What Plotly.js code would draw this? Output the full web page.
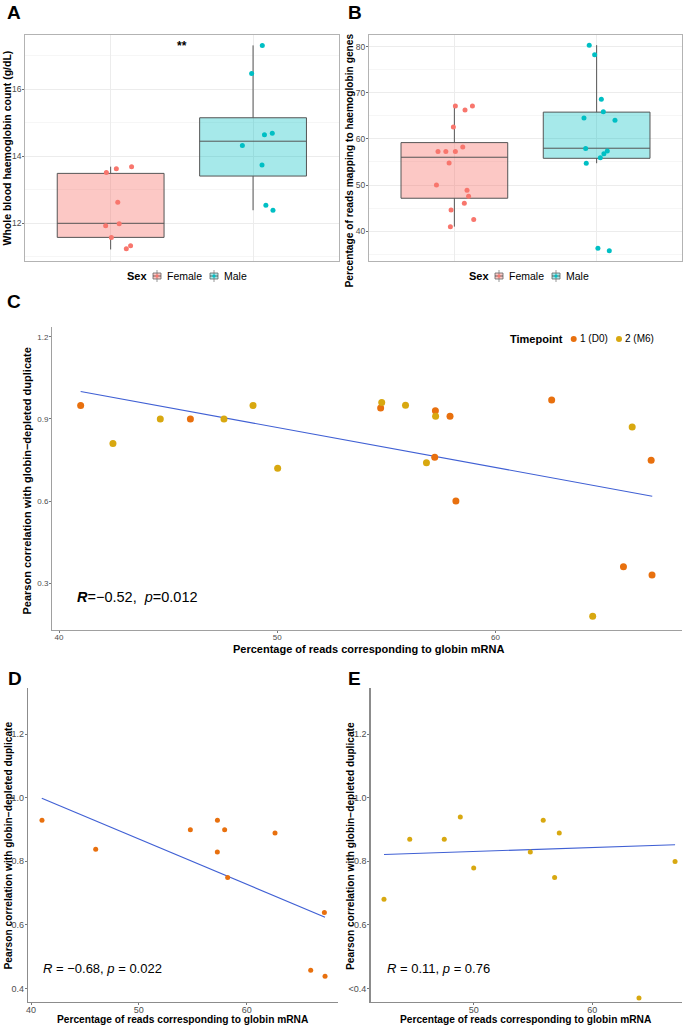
<!DOCTYPE html>
<html>
<head>
<meta charset="utf-8">
<script src="https://cdn.plot.ly/plotly-3.0.1.min.js"></script>
<style>html,body{margin:0;padding:0;background:#fff;}#chart{width:685px;height:1027px;}</style>
</head>
<body>
<div id="chart"></div>
<script>
// ---------------- DATA ----------------
// Panel A: whole blood haemoglobin (g/dL)
const sexCategories = ["Female", "Male"];
const femaleHb = [13.52, 13.63, 13.69, 12.63, 11.99, 11.93, 11.58, 11.33, 11.24];
const femaleHbJitter = [-0.03, 0.04, 0.147, 0.05, 0.06, -0.035, 0.005, 0.14, 0.11];
const maleHb = [17.31, 16.47, 14.69, 14.64, 14.32, 13.74, 12.54, 12.39];
const maleHbJitter = [0.065, -0.01, 0.135, 0.08, -0.075, 0.063, 0.09, 0.14];
// box statistics [female, male]
const hbQ1 = [11.58, 13.41];
const hbMedian = [12.0, 14.45];
const hbQ3 = [13.49, 15.15];
const hbLower = [11.22, 12.39];
const hbUpper = [13.69, 17.31];

// Panel B: % reads mapping to haemoglobin genes
const femaleReads = [67.15, 66.28, 67.15, 62.6, 58.27, 57.25, 57.25, 57.25, 54.8, 50.03, 48.88, 47.58, 46.07, 44.62, 42.52, 41.0];
const femaleReadsJitter = [0.007, 0.075, 0.127, -0.007, 0.059, -0.115, -0.06, 0.007, -0.037, -0.126, 0.089, 0.10, 0.07, -0.023, 0.136, -0.028];
const maleReads = [80.3, 78.2, 68.6, 64.5, 65.9, 64.05, 57.9, 57.4, 56.8, 55.9, 54.73, 36.3, 35.8];
const maleReadsJitter = [-0.052, -0.014, 0.033, -0.089, 0.047, 0.129, -0.077, 0.075, 0.051, 0.026, -0.073, 0.009, 0.089];
const readsQ1 = [47.15, 55.8];
const readsMedian = [56.03, 57.98];
const readsQ3 = [59.2, 65.8];
const readsLower = [41.0, 54.73];
const readsUpper = [67.15, 80.3];

// Panel C: both timepoints
const timepointLabels = ["1 (D0)", "2 (M6)"];
const d0GlobinPct = [40.99, 46.02, 54.74, 57.25, 57.92, 62.58, 67.14, 57.22, 58.19, 65.87, 67.18];
const d0Corr = [0.949, 0.9, 0.94, 0.93, 0.91, 0.969, 0.749, 0.76, 0.6, 0.36, 0.33];
const m6GlobinPct = [42.47, 44.64, 47.56, 48.89, 50.02, 54.79, 55.88, 57.26, 66.27, 56.84, 64.46];
const m6Corr = [0.81, 0.9, 0.9, 0.949, 0.72, 0.96, 0.95, 0.91, 0.87, 0.74, 0.18];
const fitCX = [40.99, 67.19];
const fitCY = [1.0, 0.618];

// Panel D: timepoint 1
const dGlobinPct = [41.02, 46.0, 54.78, 57.29, 57.28, 57.96, 58.24, 62.63, 67.21, 65.94, 67.27];
const dCorr = [0.929, 0.838, 0.899, 0.929, 0.829, 0.899, 0.749, 0.889, 0.639, 0.457, 0.438];
const fitDX = [41.0, 67.27];
const fitDY = [0.998, 0.624];

// Panel E: timepoint 2
const eGlobinPct = [42.44, 44.61, 47.52, 48.87, 50.0, 54.77, 55.86, 57.21, 56.82, 66.97, 63.93];
const eCorr = [0.68, 0.869, 0.869, 0.939, 0.779, 0.829, 0.929, 0.889, 0.749, 0.799, 0.37];
const fitEX = [42.44, 66.97];
const fitEY = [0.821, 0.852];

// tick labels
const hbTicks = [12, 14, 16];
const readsTicks = [40, 50, 60, 70, 80];
const corrTicksC = [0.3, 0.6, 0.9, 1.2];
const corrTicksDE = [0.4, 0.6, 0.8, 1.0, 1.2];
const corrTickTextD = ["0.4", "0.6", "0.8", "1.0", "1.2"];
const corrTickTextE = ["<0.4", "0.6", "0.8", "1.0", "1.2"];
const pctTicks = [40, 50, 60];

// ---------------- STYLE ----------------
const W = 685, H = 1027;
const FONT = "Liberation Sans, Arial, Helvetica, sans-serif";
const RED = "#F8766D", TEAL = "#00BFC4";
const RED_FILL = "rgba(248,118,109,0.4)", TEAL_FILL = "rgba(0,191,196,0.35)";
const ORANGE = "#E8700E", YELLOW = "#D8A810", BLUE = "#4060D4";
const px = v => v / W;
const py = v => 1 - v / H;

function addBox(traces, pos, q1, med, q3, lo, hi, fill, xa, ya) {
  traces.push({
    type: "box", x: [pos], q1: [q1], median: [med], q3: [q3],
    lowerfence: [lo], upperfence: [hi], width: 0.75, whiskerwidth: 0,
    fillcolor: fill, line: { color: "#555555", width: 1 },
    boxpoints: false, xaxis: xa, yaxis: ya, showlegend: false, hoverinfo: "skip"
  });
}
function addJitter(traces, pos, vals, jit, color, xa, ya) {
  traces.push({
    type: "scatter", mode: "markers",
    x: vals.map((v, i) => pos + jit[i]), y: vals,
    marker: { color: color, size: 5 }, xaxis: xa, yaxis: ya, showlegend: false, hoverinfo: "skip"
  });
}

const traces = [];
// Panel A
addBox(traces, 1, hbQ1[0], hbMedian[0], hbQ3[0], hbLower[0], hbUpper[0], RED_FILL, "x", "y");
addBox(traces, 2, hbQ1[1], hbMedian[1], hbQ3[1], hbLower[1], hbUpper[1], TEAL_FILL, "x", "y");
addJitter(traces, 1, femaleHb, femaleHbJitter, RED, "x", "y");
addJitter(traces, 2, maleHb, maleHbJitter, TEAL, "x", "y");
// Panel B
addBox(traces, 1, readsQ1[0], readsMedian[0], readsQ3[0], readsLower[0], readsUpper[0], RED_FILL, "x2", "y2");
addBox(traces, 2, readsQ1[1], readsMedian[1], readsQ3[1], readsLower[1], readsUpper[1], TEAL_FILL, "x2", "y2");
addJitter(traces, 1, femaleReads, femaleReadsJitter, RED, "x2", "y2");
addJitter(traces, 2, maleReads, maleReadsJitter, TEAL, "x2", "y2");
// Panel C
traces.push({ type: "scatter", mode: "lines", x: fitCX, y: fitCY, line: { color: BLUE, width: 1.1 }, xaxis: "x3", yaxis: "y3", showlegend: false, hoverinfo: "skip" });
traces.push({ type: "scatter", mode: "markers", x: d0GlobinPct, y: d0Corr, marker: { color: ORANGE, size: 7 }, xaxis: "x3", yaxis: "y3", showlegend: false, hoverinfo: "skip" });
traces.push({ type: "scatter", mode: "markers", x: m6GlobinPct, y: m6Corr, marker: { color: YELLOW, size: 7 }, xaxis: "x3", yaxis: "y3", showlegend: false, hoverinfo: "skip" });
// Panel D
traces.push({ type: "scatter", mode: "lines", x: fitDX, y: fitDY, line: { color: BLUE, width: 1.1 }, xaxis: "x4", yaxis: "y4", showlegend: false, hoverinfo: "skip" });
traces.push({ type: "scatter", mode: "markers", x: dGlobinPct, y: dCorr, marker: { color: ORANGE, size: 5 }, xaxis: "x4", yaxis: "y4", showlegend: false, hoverinfo: "skip", cliponaxis: false });
// Panel E
traces.push({ type: "scatter", mode: "lines", x: fitEX, y: fitEY, line: { color: BLUE, width: 1.1 }, xaxis: "x5", yaxis: "y5", showlegend: false, hoverinfo: "skip" });
traces.push({ type: "scatter", mode: "markers", x: eGlobinPct, y: eCorr, marker: { color: YELLOW, size: 5 }, xaxis: "x5", yaxis: "y5", showlegend: false, hoverinfo: "skip", cliponaxis: false });

// axis helpers
const tickFont = s => ({ family: FONT, size: s, color: "#4d4d4d" });
function boxX(d0, d1, anchor) {
  return { domain: [px(d0), px(d1)], range: [0.4, 2.6], anchor: anchor, tickvals: [1, 2], ticktext: ["", ""],
    showticklabels: false, ticks: "", showgrid: true, gridcolor: "#ececec", gridwidth: 1, zeroline: false,
    showline: true, mirror: true, linecolor: "#b3b3b3", linewidth: 1, fixedrange: true };
}
function boxY(range, tv, minor, anchor) {
  return { domain: [py(261), py(35)], range: range, anchor: anchor, tickvals: tv, ticktext: tv.map(String),
    ticks: "outside", ticklen: 2, tickcolor: "#444", tickwidth: 0.8, tickfont: tickFont(8.5), ticklabelstandoff: -1,
    showgrid: true, gridcolor: "#ececec", gridwidth: 1, zeroline: false,
    minor: { tickvals: minor, showgrid: true, gridcolor: "#f6f6f6", gridwidth: 1, ticks: "" },
    showline: true, mirror: true, linecolor: "#b3b3b3", linewidth: 1, fixedrange: true };
}
function sX(d0, d1, range, anchor, fs, lc, lw) {
  return { domain: [px(d0), px(d1)], range: range, anchor: anchor, tickvals: pctTicks, ticktext: pctTicks.map(String),
    ticks: "outside", ticklen: 2, tickcolor: "#555", tickwidth: 0.8, tickfont: tickFont(fs), ticklabelstandoff: -3,
    showgrid: false, zeroline: false, showline: true, linecolor: lc, linewidth: lw, fixedrange: true };
}
function sY(top, bot, range, tv, tt, anchor, fs, lc, lw) {
  return { domain: [py(bot), py(top)], range: range, anchor: anchor, tickvals: tv, ticktext: tt,
    ticks: "outside", ticklen: 2, tickcolor: "#555", tickwidth: 0.8, tickfont: tickFont(fs), ticklabelstandoff: -1,
    showgrid: false, zeroline: false, showline: true, linecolor: lc, linewidth: lw, fixedrange: true };
}

const annotations = [];
const shapes = [];
function txt(x, y, text, size, opts) {
  annotations.push(Object.assign({ xref: "paper", yref: "paper", x: px(x), y: py(y), text: text, showarrow: false,
    xanchor: "center", yanchor: "middle", font: { family: FONT, size: size, color: "#000" } }, opts || {}));
}
// panel labels
[["A", 5, 13], ["B", 346, 13], ["C", 5, 301], ["D", 6, 678], ["E", 346, 678]].forEach(l =>
  txt(l[1], l[2], "<b>" + l[0] + "</b>", 19, { xanchor: "left" }));
// significance
annotations.push({ xref: "x", yref: "y", x: 1.5, y: 17.3, text: "<b>**</b>", showarrow: false,
  font: { family: FONT, size: 12, color: "#000" }, xanchor: "center", yanchor: "middle" });
// axis titles
const rot = { textangle: -90 };
txt(6.5, 148, "<b>Whole blood haemoglobin count (g/dL)</b>", 10.5, rot);
txt(349.5, 161, "<b>Percentage of reads mapping to haemoglobin genes</b>", 10.2, rot);
txt(26.5, 481, "<b>Pearson correlation with globin\u2212depleted duplicate</b>", 11, rot);
txt(368, 649, "<b>Percentage of reads corresponding to globin mRNA</b>", 11);
txt(7.5, 846, "<b>Pearson correlation with globin\u2212depleted duplicate</b>", 10.2, rot);
txt(183, 1019.5, "<b>Percentage of reads corresponding to globin mRNA</b>", 10.2);
txt(350, 846, "<b>Pearson correlation with globin\u2212depleted duplicate</b>", 10.2, rot);
txt(526, 1019.5, "<b>Percentage of reads corresponding to globin mRNA</b>", 10.2);
// stat labels
txt(75, 597, "<b><i>R</i></b>=\u22120.52,  <i>p</i>=0.012", 14.5, { xanchor: "left" });
txt(41, 968, "<i>R</i> = \u22120.68, <i>p</i> = 0.022", 13, { xanchor: "left" });
txt(385, 968, "<i>R</i> = 0.11, <i>p</i> = 0.76", 13, { xanchor: "left" });

// Sex legends
function sexLegend(x0, keyF, textF, keyM, textM) {
  txt(x0, 276, "<b>Sex</b>", 11, { xanchor: "left" });
  [[keyF, RED_FILL, RED, textF, sexCategories[0]], [keyM, TEAL_FILL, TEAL, textM, sexCategories[1]]].forEach(k => {
    const kx = k[0];
    shapes.push({ type: "line", xref: "paper", yref: "paper", x0: px(kx + 5), x1: px(kx + 5), y0: py(270), y1: py(282), line: { color: "#999", width: 1 } });
    shapes.push({ type: "rect", xref: "paper", yref: "paper", x0: px(kx + 1), x1: px(kx + 9), y0: py(273), y1: py(279), fillcolor: k[1], line: { color: "#666", width: 0.8 } });
    shapes.push({ type: "line", xref: "paper", yref: "paper", x0: px(kx + 1), x1: px(kx + 9), y0: py(276), y1: py(276), line: { color: "#444", width: 0.8 } });
    shapes.push({ type: "circle", xref: "paper", yref: "paper", x0: px(kx + 3.4), x1: px(kx + 6.6), y0: py(274.4), y1: py(277.6), fillcolor: k[2], line: { width: 0 } });
    txt(k[3], 276, k[4], 10.5, { xanchor: "left" });
  });
}
sexLegend(125, 152, 165, 209, 221.5);
sexLegend(467, 494, 507, 551, 563.5);

// Timepoint legend
txt(507.5, 339, "<b>Timepoint</b>", 11, { xanchor: "left" });
[[573.7, ORANGE, 577.5, timepointLabels[0]], [619, YELLOW, 623, timepointLabels[1]]].forEach(k => {
  shapes.push({ type: "circle", xref: "paper", yref: "paper", x0: px(k[0] - 3), x1: px(k[0] + 3), y0: py(336), y1: py(342), fillcolor: k[1], line: { width: 0 } });
  txt(k[2], 339, k[3], 10, { xanchor: "left" });
});

const layout = {
  width: W, height: H, margin: { l: 0, r: 0, t: 0, b: 0 },
  paper_bgcolor: "#fff", plot_bgcolor: "#fff", showlegend: false,
  font: { family: FONT },
  xaxis: boxX(25.2, 338.5, "y"),
  yaxis: boxY([10.875, 17.62], hbTicks, [11, 13, 15, 17], "x"),
  xaxis2: boxX(369, 682, "y2"),
  yaxis2: boxY([33.56, 82.5], readsTicks, [35, 45, 55, 65, 75], "x2"),
  xaxis3: sX(52.3, 681.7, [39.69, 68.54], "y3", 8, "#a0a0a0", 1.3),
  yaxis3: sY(326.7, 630, [0.1296, 1.2365], corrTicksC, corrTicksC.map(v => v.toFixed(1)), "x3", 8, "#a0a0a0", 1.3),
  xaxis4: sX(28.3, 338.3, [39.75, 68.5], "y4", 9, "#8c8c8c", 1.5),
  yaxis4: sY(688, 1001.7, [0.358, 1.345], corrTicksDE, corrTickTextD, "x4", 9, "#8c8c8c", 1.5),
  xaxis5: sX(370.7, 681.7, [41.32, 67.53], "y5", 9, "#8c8c8c", 1.5),
  yaxis5: sY(688, 1001.7, [0.358, 1.345], corrTicksDE, corrTickTextE, "x5", 9, "#8c8c8c", 1.5),
  annotations: annotations, shapes: shapes
};

Plotly.newPlot("chart", traces, layout, { staticPlot: true, displayModeBar: false });
</script>
</body>
</html>
